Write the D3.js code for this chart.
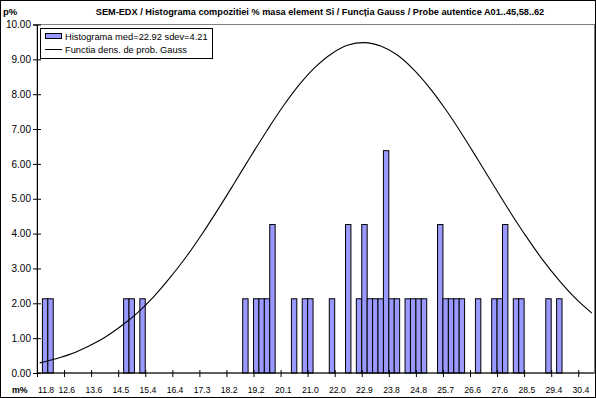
<!DOCTYPE html>
<html>
<head>
<meta charset="utf-8">
<script src="https://cdn.jsdelivr.net/npm/d3@7/dist/d3.min.js"></script>
<style>
  html, body { margin: 0; padding: 0; background: #fff; }
  svg { display: block; }
  text { font-family: "Liberation Sans", Arial, sans-serif; }
</style>
</head>
<body>
<svg id="chart" width="596" height="398"></svg>
<script>
// Histogram of Si mass % (SEM-EDX) with the fitted Gauss density.
const binCount = 103;                       // histogram classes on the category axis
const tickLabels = ["11.8","12.6","13.6","14.5","15.4","16.4","17.3","18.2","19.2","20.1",
                    "21.0","22.0","22.9","23.8","24.8","25.7","26.6","27.6","28.5","29.4","30.4"];
const tickEvery = 5;                        // one labelled tick every 5 classes

// non-empty classes (index on the category axis) and their frequency, p%
const barBins   = [1, 2, 16, 17, 19, 38, 40, 41, 42, 43, 47, 49, 50, 54, 57,
                   59, 60, 61, 62, 63, 64, 65, 66, 68, 69, 70, 71,
                   74, 75, 76, 77, 78, 81, 84, 85, 86, 88, 89, 94, 96];
const barValues = [2.13, 2.13, 2.13, 2.13, 2.13, 2.13, 2.13, 2.13, 2.13, 4.26, 2.13, 2.13, 2.13, 2.13, 4.26,
                   2.13, 4.26, 2.13, 2.13, 2.13, 6.38, 2.13, 2.13, 2.13, 2.13, 2.13, 2.13,
                   4.26, 2.13, 2.13, 2.13, 2.13, 2.13, 2.13, 2.13, 4.26, 2.13, 2.13, 2.13, 2.13];

// Gauss density curve, p%, sampled every 3 classes
const gaussBins   = [0, 3, 6, 9, 12, 15, 18, 21, 24, 27, 30, 33, 36, 39, 42, 45, 48, 51,
                     54, 57, 60, 63, 66, 69, 72, 75, 78, 81, 84, 87, 90, 93, 96, 99, 102];
const gaussValues = [0.29, 0.41, 0.56, 0.77, 1.02, 1.34, 1.72, 2.18, 2.72, 3.32, 3.99, 4.71, 5.46, 6.22, 6.96, 7.66, 8.28, 8.79,
                     9.17, 9.41, 9.48, 9.38, 9.13, 8.72, 8.19, 7.56, 6.86, 6.11, 5.35, 4.60, 3.89, 3.23, 2.65, 2.14, 1.72];

const yTicks = d3.range(0, 10.001, 1);

const titleText = "SEM-EDX / Histograma compozitiei % masa element Si / Funcția Gauss / Probe autentice A01..45,58..62";
const legendBars = "Histograma med=22.92 sdev=4.21";
const legendLine = "Functia dens. de prob. Gauss";

const svg = d3.select("#chart");
const W = 596, H = 398;
const plot = { left: 37, right: 594.5, top: 24.5, bottom: 373 };

const x = d3.scaleBand().domain(d3.range(binCount)).range([plot.left, plot.right]).paddingInner(0).paddingOuter(0);
const y = d3.scaleLinear().domain([0, 10]).range([plot.bottom, plot.top]);

// outer chart border
svg.append("rect").attr("x", 0.5).attr("y", 0.5).attr("width", W - 1).attr("height", H - 1)
  .attr("fill", "#fff").attr("stroke", "#000").attr("stroke-width", 1);

// plot area frame
svg.append("rect").attr("x", plot.left).attr("y", plot.top)
  .attr("width", plot.right - plot.left).attr("height", plot.bottom - plot.top)
  .attr("fill", "none").attr("stroke", "#808080").attr("stroke-width", 1);

// bars
svg.append("g").selectAll("rect").data(barBins).join("rect")
  .attr("x", (d) => x(d))
  .attr("y", (d, i) => y(barValues[i]))
  .attr("width", x.bandwidth())
  .attr("height", (d, i) => y(0) - y(barValues[i]))
  .attr("fill", "#9999ff")
  .attr("stroke", "#000")
  .attr("stroke-width", 1);

// Gauss curve through class centres
const line = d3.line()
  .x((d) => x(d) + x.bandwidth() / 2)
  .y((d, i) => y(gaussValues[i]))
  .curve(d3.curveCatmullRom.alpha(0.5));
svg.append("path").datum(gaussBins).attr("d", line)
  .attr("fill", "none").attr("stroke", "#000").attr("stroke-width", 1.1);

// y axis
const yAxis = d3.axisLeft(y).tickValues(yTicks).tickFormat(d3.format(".2f")).tickSize(4).tickPadding(3);
const gy = svg.append("g").attr("transform", `translate(${plot.left},0)`).call(yAxis);
gy.select(".domain").attr("stroke", "#000");
gy.selectAll(".tick line").attr("x2", -4).attr("x1", 4).attr("stroke", "#000");
gy.selectAll(".tick text").attr("font-size", 10).attr("fill", "#000").attr("font-family", "Liberation Sans, Arial, sans-serif")
  .attr("x", -6);

// x axis: ticks on class boundaries every 5 classes, labels centred on the class
const tickBins = tickLabels.map((t, i) => i * tickEvery);
const gx = svg.append("g");
gx.append("line").attr("x1", plot.left).attr("x2", plot.right).attr("y1", y(0)).attr("y2", y(0)).attr("stroke", "#000");
gx.selectAll("line.tk").data(tickBins).join("line").attr("class", "tk")
  .attr("x1", (d) => x(d) + 0.5).attr("x2", (d) => x(d) + 0.5)
  .attr("y1", y(0) - 3).attr("y2", y(0) + 4).attr("stroke", "#000");
gx.selectAll("text").data(tickBins).join("text")
  .attr("x", (d, i) => i === 0 ? x(d) + 1 : x(d) + x.bandwidth() / 2)
  .attr("y", 393)
  .attr("text-anchor", (d, i) => i === 0 ? "start" : "middle")
  .attr("font-size", 8.6)
  .text((d, i) => tickLabels[i]);

// axis unit labels
svg.append("text").attr("x", 12).attr("y", 393).attr("font-size", 8.8).attr("font-weight", "bold").text("m%");
svg.append("text").attr("x", 3).attr("y", 15).attr("font-size", 9.5).attr("font-weight", "bold").text("p%");

// title
svg.append("text").attr("x", 320).attr("y", 15).attr("text-anchor", "middle")
  .attr("font-size", 9.2).attr("font-weight", "bold").text(titleText);

// legend
const lg = svg.append("g");
lg.append("rect").attr("x", 40.5).attr("y", 28.5).attr("width", 172).attr("height", 30)
  .attr("fill", "#fff").attr("stroke", "#000");
lg.append("rect").attr("x", 45.5).attr("y", 33.5).attr("width", 16).attr("height", 5)
  .attr("fill", "#9999ff").attr("stroke", "#000");
lg.append("text").attr("x", 65).attr("y", 40).attr("font-size", 9.3).text(legendBars);
lg.append("line").attr("x1", 45).attr("x2", 62).attr("y1", 49.5).attr("y2", 49.5).attr("stroke", "#000");
lg.append("text").attr("x", 65).attr("y", 53).attr("font-size", 9.3).text(legendLine);
</script>
</body>
</html>
